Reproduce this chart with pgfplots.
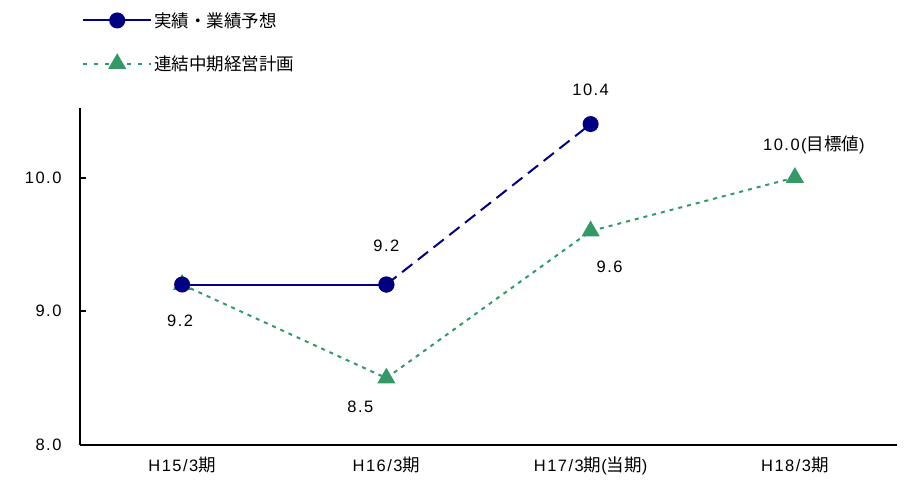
\documentclass[border=0pt]{standalone}
\usepackage{fontspec}
\setmainfont{Liberation Sans}[LetterSpace=9]
\newfontfamily\jpf{Noto Sans CJK JP}
\newcommand{\jp}{\jpf\fontsize{17.5}{19}\selectfont}
\usepackage{pgfplots}
\pgfplotsset{compat=1.18}
\definecolor{navy}{RGB}{0,0,128}
\definecolor{sea}{RGB}{51,153,102}
\newcommand{\lbl}{\fontsize{16.5}{19}\selectfont}

\begin{document}
\begin{tikzpicture}
\useasboundingbox (0pt,0pt) rectangle (912pt,480pt);
\begin{axis}[
    at={(80pt,35pt)}, anchor=south west,
    scale only axis, width=817pt, height=337pt,
    xmin=-0.5, xmax=3.5, ymin=8, ymax=10.52,
    axis lines*=left,
    axis line style={line width=2pt, black},
    clip=false,
    xtick={0,1,2,3},
    xticklabels={H15/3{\jp 期}, H16/3{\jp 期}, H17/3{\jp 期}({\jp 当期}), H18/3{\jp 期}},
    x tick style={draw=none},
    xticklabel style={font=\lbl, yshift=-8pt},
    ytick={8,9,10},
    tick align=inside,
    major tick length=6pt,
    y tick style={line width=2pt, black},
    yticklabel style={font=\lbl, xshift=-15pt,
      /pgf/number format/.cd, fixed, fixed zerofill, precision=1, assume math mode=true},
    legend style={draw=none, fill=none, at={(axis description cs:0,1)}, anchor=south west,
      xshift=2pt, yshift=34pt, inner sep=0pt, font=\lbl, row sep=23pt,
      /tikz/every even column/.append style={column sep=5pt}},
    legend cell align=left,
    legend image code/.code={\draw[mark repeat=2,mark phase=2,#1] plot coordinates {(0pt,0pt) (34pt,0pt) (68pt,0pt)};},
]
\addlegendimage{navy, line width=2pt, mark=*, mark size=7pt, mark options={solid, fill=navy, draw=navy}}
\addlegendentry{\jp 実績・業績予想}
\addlegendimage{sea, line width=2pt, dash pattern=on 4pt off 7pt, mark=triangle*, mark size=8.5pt, mark options={solid, fill=sea, draw=sea}}
\addlegendentry{\jp 連結中期経営計画}

\addplot[forget plot, sea, line width=2pt, dash pattern=on 4pt off 5pt, mark=triangle*, mark size=8.5pt, mark options={solid, fill=sea, draw=sea}]
  coordinates {(0,9.2) (1,8.5) (2,9.6) (3,10.0)};
\addplot[forget plot, navy, line width=2pt, mark=*, mark size=7pt, mark options={solid, fill=navy, draw=navy}]
  coordinates {(0,9.2) (1,9.2)};
\addplot[forget plot, navy, line width=2pt, dash pattern=on 13pt off 7pt, mark=*, mark size=7pt, mark options={solid, fill=navy, draw=navy}]
  coordinates {(1,9.2) (2,10.4)};

\node[font=\lbl] at (axis cs:0,9.2) [xshift=-2pt, yshift=-36pt] {9.2};
\node[font=\lbl] at (axis cs:1,9.2) [yshift=39pt] {9.2};
\node[font=\lbl] at (axis cs:2,10.4) [yshift=34pt] {10.4};
\node[font=\lbl] at (axis cs:1,8.5) [xshift=-26pt, yshift=-29pt] {8.5};
\node[font=\lbl] at (axis cs:2,9.6) [xshift=19pt, yshift=-36pt] {9.6};
\node[font=\lbl] at (axis cs:3,10.0) [xshift=19pt, yshift=33pt] {10.0({\jp 目標値})};
\end{axis}
\end{tikzpicture}
\end{document}
